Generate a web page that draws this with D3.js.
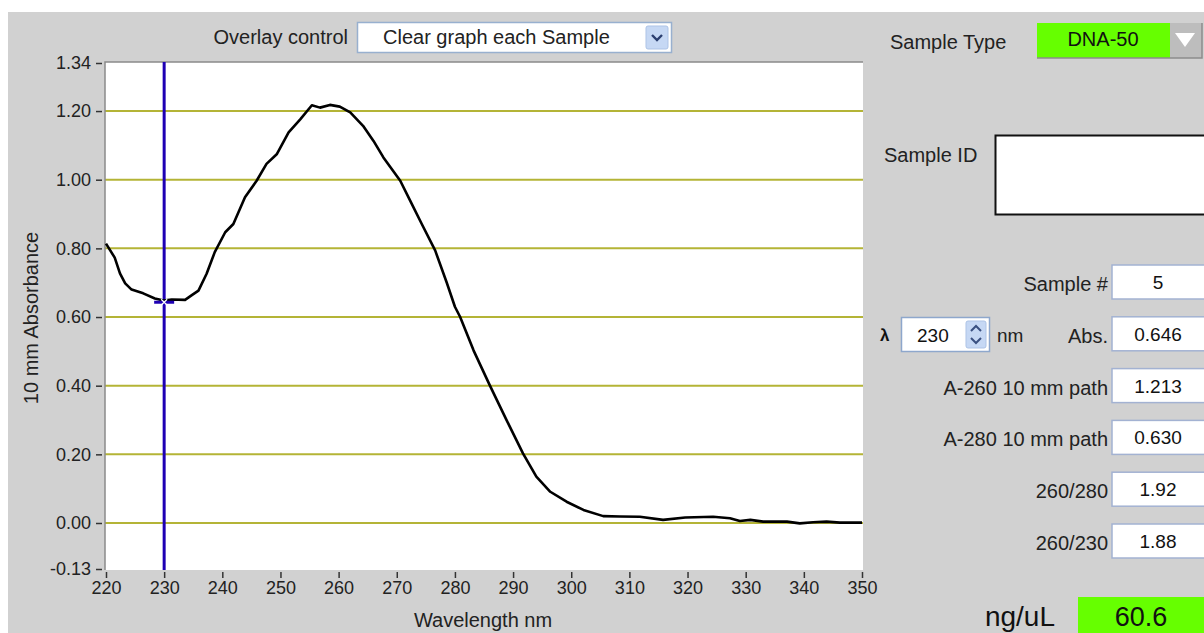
<!DOCTYPE html>
<html>
<head>
<meta charset="utf-8">
<script src="https://cdn.jsdelivr.net/npm/d3@7"></script>
<style>
  html, body { margin: 0; padding: 0; background: #fff; }
  svg { display: block; font-family: "Liberation Sans", Arial, sans-serif; }
</style>
</head>
<body>
<div id="chart"></div>
<script>
// spectrum (nm, absorbance)
const wavelengths = [220, 221.5, 222.4, 223.3, 224.4, 226.4, 228.4, 229.9, 231.3, 233.6,
  234.7, 235.9, 237.3, 238.7, 240.5, 241.9, 243.9, 245.9, 247.6, 249.4,
  251.4, 253.4, 255.4, 256.8, 258.5, 260.2, 262.0, 264.2, 266.0, 267.7,
  270.6, 272.3, 274.3, 276.6, 278.6, 280.0, 280.9, 283.2, 286.0, 288.9,
  291.7, 294.0, 296.4, 299.2, 302.1, 305.5, 308.4, 311.8, 315.8, 319.6,
  324.4, 327.3, 329.0, 330.8, 333.0, 337.1, 339.3, 341.6, 343.9, 346.2, 350];
const absorbance = [0.814, 0.773, 0.727, 0.698, 0.680, 0.669, 0.654, 0.648, 0.651, 0.650,
  0.663, 0.677, 0.726, 0.789, 0.847, 0.871, 0.949, 0.997, 1.046, 1.075,
  1.138, 1.176, 1.217, 1.210, 1.218, 1.213, 1.196, 1.157, 1.113, 1.065,
  0.997, 0.939, 0.871, 0.794, 0.700, 0.630, 0.600, 0.503, 0.401, 0.299,
  0.203, 0.135, 0.091, 0.062, 0.038, 0.020, 0.019, 0.018, 0.009, 0.016,
  0.018, 0.014, 0.006, 0.009, 0.004, 0.004, -0.001, 0.002, 0.004, 0.001, 0.001];

const xTicks = [220, 230, 240, 250, 260, 270, 280, 290, 300, 310, 320, 330, 340, 350];
const yTicks = [-0.134, 0, 0.2, 0.4, 0.6, 0.8, 1.0, 1.2, 1.34];
const yGrid = [0, 0.2, 0.4, 0.6, 0.8, 1.0, 1.2];
const cursorNm = 230;
const cursorAbs = 0.646;

const overlayLabel = "Overlay control";
const overlayChoice = "Clear graph each Sample";
const sampleType = "DNA-50";
const fieldLabels = ["Sample #", "Abs.", "A-260 10 mm path", "A-280 10 mm path", "260/280", "260/230"];
const fieldValues = ["5", "0.646", "1.213", "0.630", "1.92", "1.88"];
const concLabel = "ng/uL";
const concValue = "60.6";

const W = 1204, H = 633;
const plot = { left: 105, top: 62, right: 863, bottom: 570 };

const svg = d3.select("#chart").append("svg")
    .attr("width", W)
    .attr("height", H);

// panel background
svg.append("rect").attr("x", 8).attr("y", 12).attr("width", W).attr("height", H)
    .attr("fill", "#d1d1d1");

// scales
const xScale = d3.scaleLinear().domain([220, 350]).range([106, 862]);
const yScale = d3.scaleLinear().domain([-0.134, 1.34]).range([569, 63]);

// plot area
svg.append("rect")
    .attr("x", plot.left).attr("y", plot.top)
    .attr("width", plot.right - plot.left).attr("height", plot.bottom - plot.top)
    .attr("fill", "#fff");

svg.selectAll(".grid")
    .data(yGrid)
    .enter().append("line")
    .attr("class", "grid")
    .attr("x1", plot.left).attr("x2", plot.right)
    .attr("y1", d => yScale(d)).attr("y2", d => yScale(d))
    .attr("stroke", "#b4b436")
    .attr("stroke-width", 2);

// plot border (top + left)
svg.append("path")
    .attr("d", `M${plot.left},${plot.bottom} V${plot.top} H${plot.right}`)
    .attr("fill", "none")
    .attr("stroke", "#8a8a8a")
    .attr("stroke-width", 1.5);

// axes - plain hyphen for negatives like the instrument software
const fmt2 = d => d3.format(".2f")(d).replace("\u2212", "-");
const yAxis = svg.append("g")
    .attr("transform", "translate(102,0)")
    .call(d3.axisLeft(yScale).tickValues(yTicks).tickSize(6).tickPadding(5)
        .tickFormat(fmt2));
const xAxis = svg.append("g")
    .attr("transform", "translate(0,572)")
    .call(d3.axisBottom(xScale).tickValues(xTicks).tickSize(6).tickPadding(3)
        .tickFormat(d3.format("d")));

[yAxis, xAxis].forEach(ax => {
    ax.select(".domain").remove();
    ax.selectAll("line").attr("stroke", "#333").attr("stroke-width", 1.5);
    ax.selectAll("text")
        .style("font-family", "'Liberation Sans', Arial, sans-serif")
        .style("font-size", "18px")
        .attr("fill", "#222");
});

// axis titles
svg.append("text")
    .attr("x", 483).attr("y", 627)
    .attr("text-anchor", "middle")
    .style("font-size", "20px")
    .attr("fill", "#222")
    .text("Wavelength nm");

svg.append("text")
    .attr("transform", "translate(38,318) rotate(-90)")
    .attr("text-anchor", "middle")
    .style("font-size", "20px")
    .attr("fill", "#222")
    .text("10 mm Absorbance");

// cursor line
svg.append("line")
    .attr("x1", xScale(cursorNm)).attr("x2", xScale(cursorNm))
    .attr("y1", plot.top).attr("y2", plot.bottom)
    .attr("stroke", "#1e00b4")
    .attr("stroke-width", 3);

// spectrum
const points = wavelengths.map((w, i) => [w, absorbance[i]]);
svg.append("path")
    .datum(points)
    .attr("fill", "none")
    .attr("stroke", "#000")
    .attr("stroke-width", 2.6)
    .attr("stroke-linejoin", "round")
    .attr("d", d3.line().x(d => xScale(d[0])).y(d => yScale(d[1])));

// cursor marker
const cx = xScale(cursorNm), cy = yScale(cursorAbs);
svg.append("line")
    .attr("x1", cx - 10).attr("x2", cx + 10).attr("y1", cy + 1).attr("y2", cy + 1)
    .attr("stroke", "#1e00b4").attr("stroke-width", 3);
svg.append("path")
    .attr("d", `M${cx - 3},${cy - 2} L${cx + 3},${cy + 4} M${cx + 3},${cy - 2} L${cx - 3},${cy + 4}`)
    .attr("stroke", "#fff").attr("stroke-width", 1.2);

// overlay control
svg.append("text")
    .attr("x", 348).attr("y", 44)
    .attr("text-anchor", "end")
    .style("font-size", "20px")
    .attr("fill", "#222")
    .text(overlayLabel);
svg.append("rect")
    .attr("x", 357.5).attr("y", 22.5).attr("width", 314).attr("height", 30)
    .attr("fill", "#fff").attr("stroke", "#98b0cf").attr("stroke-width", 1.5);
svg.append("text")
    .attr("x", 383).attr("y", 44)
    .style("font-size", "20px")
    .attr("fill", "#222")
    .text(overlayChoice);
svg.append("rect")
    .attr("x", 646).attr("y", 26).attr("width", 22).attr("height", 23).attr("rx", 2)
    .attr("fill", "#c6d8f4").attr("stroke", "#adc3e6");
svg.append("path")
    .attr("d", "M652,35 L657,40 L662,35")
    .attr("fill", "none").attr("stroke", "#2c3f70").attr("stroke-width", 2.4);

// sample type
svg.append("text")
    .attr("x", 890).attr("y", 49)
    .style("font-size", "20px")
    .attr("fill", "#222")
    .text("Sample Type");
svg.append("rect")
    .attr("x", 1037).attr("y", 23).attr("width", 133).attr("height", 35)
    .attr("fill", "#66ff00");
svg.append("rect")
    .attr("x", 1170).attr("y", 23).attr("width", 32).attr("height", 35)
    .attr("fill", "#bdbdbd");
svg.append("path")
    .attr("d", "M1037,58 H1202 V23")
    .attr("fill", "none").attr("stroke", "#8c8c8c").attr("stroke-width", 1.5);
svg.append("path")
    .attr("d", "M1175,33 L1195,33 L1185,47 Z")
    .attr("fill", "#fff");
svg.append("text")
    .attr("x", 1103).attr("y", 46)
    .attr("text-anchor", "middle")
    .style("font-size", "20px")
    .attr("fill", "#111")
    .text(sampleType);

// sample id
svg.append("text")
    .attr("x", 884).attr("y", 162)
    .style("font-size", "20px")
    .attr("fill", "#222")
    .text("Sample ID");
svg.append("rect")
    .attr("x", 995.5).attr("y", 135.5).attr("width", 220).attr("height", 79)
    .attr("fill", "#fff").attr("stroke", "#111").attr("stroke-width", 2);

// measurement fields
const rowY = d3.scaleLinear().domain([0, fieldLabels.length - 1]).range([265, 524]);
const rows = svg.selectAll(".field")
    .data(fieldLabels.map((l, i) => ({ label: l, value: fieldValues[i] })))
    .enter().append("g")
    .attr("class", "field")
    .attr("transform", (d, i) => `translate(0,${rowY(i)})`);
rows.append("rect")
    .attr("x", 1112).attr("y", 0).attr("width", 110).attr("height", 34)
    .attr("fill", "#fff").attr("stroke", "#a3b2d2").attr("stroke-width", 1.5);
rows.append("text")
    .attr("x", 1108).attr("y", 26)
    .attr("text-anchor", "end")
    .style("font-size", "20px")
    .attr("fill", "#222")
    .text(d => d.label);
rows.append("text")
    .attr("x", 1158).attr("y", 24)
    .attr("text-anchor", "middle")
    .style("font-size", "19px")
    .attr("fill", "#111")
    .text(d => d.value);

// wavelength spin box
svg.append("text")
    .attr("x", 880).attr("y", 341)
    .style("font-size", "17px").style("font-weight", "bold")
    .attr("fill", "#111")
    .text("λ");
svg.append("rect")
    .attr("x", 901.5).attr("y", 317.5).attr("width", 88).attr("height", 34)
    .attr("fill", "#fff").attr("stroke", "#8ea7cc").attr("stroke-width", 1.5);
svg.append("text")
    .attr("x", 917).attr("y", 342)
    .style("font-size", "19px")
    .attr("fill", "#111")
    .text(cursorNm);
svg.append("rect")
    .attr("x", 966).attr("y", 321).attr("width", 20).attr("height", 27).attr("rx", 2)
    .attr("fill", "#c6d8f4").attr("stroke", "#adc3e6");
svg.append("path")
    .attr("d", "M971,331 L976,326 L981,331 M971,338 L976,343 L981,338")
    .attr("fill", "none").attr("stroke", "#3a5080").attr("stroke-width", 2);
svg.append("text")
    .attr("x", 997).attr("y", 342)
    .style("font-size", "19px")
    .attr("fill", "#222")
    .text("nm");

// concentration
svg.append("text")
    .attr("x", 1055).attr("y", 626)
    .attr("text-anchor", "end")
    .style("font-size", "28px")
    .attr("fill", "#111")
    .text(concLabel);
svg.append("rect")
    .attr("x", 1078).attr("y", 597).attr("width", 130).attr("height", 40)
    .attr("fill", "#66ff00");
svg.append("text")
    .attr("x", 1141).attr("y", 626)
    .attr("text-anchor", "middle")
    .style("font-size", "27px")
    .attr("fill", "#111")
    .text(concValue);
</script>
</body>
</html>
